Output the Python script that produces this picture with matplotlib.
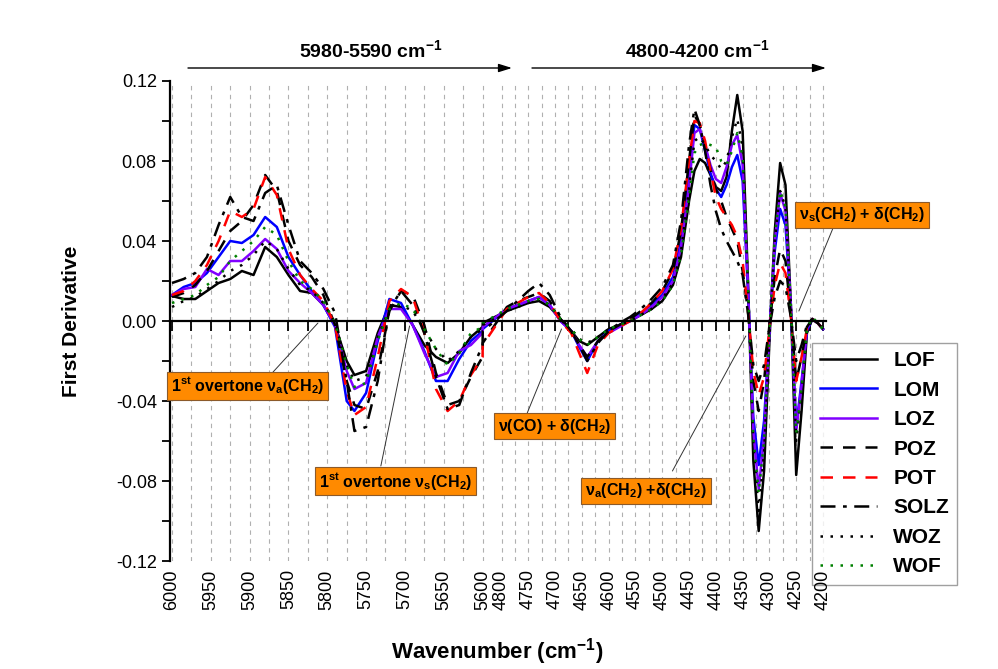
import numpy as np
import matplotlib
matplotlib.use("Agg")
import matplotlib.pyplot as plt
from matplotlib.ticker import FixedLocator, NullFormatter, MultipleLocator, FormatStrFormatter

plt.rcParams["font.family"] = ["Liberation Sans", "DejaVu Sans"]
plt.rcParams["mathtext.fontset"] = "custom"
plt.rcParams["mathtext.rm"] = "Liberation Sans"
plt.rcParams["mathtext.bf"] = "Liberation Sans:bold"
plt.rcParams["mathtext.it"] = "Liberation Sans:italic"
plt.rcParams["axes.unicode_minus"] = False

# wavenumbers (cm-1): 6000-5590 region, then 4790-4200 region
wavenumber = [6000, 5985, 5970, 5955, 5940, 5925, 5910, 5895, 5880, 5865, 5850, 5835, 5820, 5805, 5790,
              5775, 5765, 5750, 5735, 5720, 5705, 5690, 5675, 5660, 5645, 5630, 5615, 5600, 5590,
              4790, 4770, 4750, 4730, 4710, 4690, 4670, 4655, 4640, 4620, 4600, 4580, 4560, 4540, 4520,
              4500, 4480, 4465, 4450, 4440, 4430, 4420, 4410, 4400, 4390, 4380, 4370, 4360, 4350, 4340,
              4330, 4320, 4310, 4300, 4290, 4280, 4270, 4260, 4250, 4240, 4230, 4220, 4210, 4200]

lof = [0.0125, 0.011, 0.011, 0.015, 0.019, 0.021, 0.025, 0.023, 0.037, 0.032, 0.023, 0.015, 0.014, 0.008, -0.002,
       -0.020, -0.027, -0.025, -0.006, 0.008, 0.007, -0.002, -0.012, -0.018, -0.021, -0.016, -0.008, -0.003, -0.001,
       0.005, 0.007, 0.009, 0.010, 0.007, 0.001, -0.005, -0.010, -0.012, -0.008, -0.004, -0.002, 0.000, 0.003, 0.006,
       0.010, 0.018, 0.032, 0.060, 0.075, 0.081, 0.079, 0.073, 0.067, 0.065, 0.072, 0.095, 0.113, 0.095, 0.020,
       -0.070, -0.105, -0.075, -0.010, 0.045, 0.079, 0.068, 0.008, -0.077, -0.045, -0.006, 0.001, -0.001, -0.004]

lom = [0.013, 0.017, 0.019, 0.024, 0.032, 0.040, 0.039, 0.043, 0.052, 0.047, 0.032, 0.023, 0.015, 0.008, -0.003,
       -0.040, -0.045, -0.036, -0.010, 0.011, 0.009, -0.002, -0.015, -0.030, -0.030, -0.019, -0.010, -0.005, -0.004,
       0.006, 0.008, 0.010, 0.012, 0.008, 0.000, -0.005, -0.013, -0.020, -0.010, -0.005, -0.002, 0.000, 0.004, 0.008,
       0.013, 0.022, 0.040, 0.073, 0.098, 0.096, 0.085, 0.074, 0.066, 0.062, 0.068, 0.077, 0.083, 0.070, 0.015,
       -0.048, -0.072, -0.050, -0.005, 0.035, 0.056, 0.048, 0.006, -0.053, -0.030, -0.005, 0.001, -0.001, -0.004]

loz = [0.013, 0.016, 0.017, 0.026, 0.023, 0.030, 0.030, 0.035, 0.041, 0.036, 0.025, 0.019, 0.014, 0.008, -0.002,
       -0.025, -0.034, -0.031, -0.008, 0.006, 0.006, -0.002, -0.016, -0.028, -0.026, -0.015, -0.012, -0.006, -0.003,
       0.006, 0.008, 0.010, 0.012, 0.008, 0.000, -0.005, -0.012, -0.018, -0.010, -0.006, -0.003, 0.000, 0.003, 0.007,
       0.012, 0.020, 0.037, 0.068, 0.094, 0.096, 0.088, 0.078, 0.071, 0.069, 0.077, 0.088, 0.093, 0.078, 0.017,
       -0.055, -0.084, -0.058, -0.006, 0.040, 0.064, 0.055, 0.008, -0.055, -0.032, -0.004, 0.001, -0.001, -0.004]

poz = [0.012, 0.014, 0.018, 0.025, 0.035, 0.045, 0.050, 0.058, 0.073, 0.065, 0.040, 0.028, 0.022, 0.013, -0.002,
       -0.030, -0.042, -0.044, -0.025, 0.005, 0.015, 0.013, -0.002, -0.026, -0.042, -0.040, -0.028, -0.018, -0.011,
       0.007, 0.010, 0.012, 0.014, 0.010, 0.001, -0.005, -0.012, -0.018, -0.010, -0.005, -0.002, 0.001, 0.005, 0.009,
       0.015, 0.025, 0.045, 0.080, 0.103, 0.098, 0.088, 0.076, 0.066, 0.060, 0.052, 0.046, 0.040, 0.025, 0.005,
       -0.030, -0.045, -0.030, -0.002, 0.022, 0.036, 0.030, 0.003, -0.030, -0.018, -0.003, 0.001, -0.001, -0.004]

pot = [0.013, 0.015, 0.020, 0.028, 0.040, 0.055, 0.052, 0.056, 0.072, 0.063, 0.036, 0.023, 0.016, 0.010, -0.002,
       -0.035, -0.047, -0.043, -0.018, 0.010, 0.016, 0.012, -0.006, -0.034, -0.045, -0.040, -0.027, -0.018, -0.012,
       0.006, 0.009, 0.012, 0.014, 0.009, 0.000, -0.006, -0.016, -0.026, -0.012, -0.006, -0.003, 0.000, 0.004, 0.009,
       0.015, 0.026, 0.046, 0.080, 0.100, 0.099, 0.090, 0.075, 0.062, 0.056, 0.052, 0.048, 0.042, 0.030, 0.005,
       -0.025, -0.037, -0.028, -0.004, 0.018, 0.029, 0.024, 0.002, -0.030, -0.018, -0.004, 0.001, -0.001, -0.004]

solz = [0.019, 0.021, 0.024, 0.032, 0.048, 0.062, 0.052, 0.050, 0.064, 0.068, 0.048, 0.030, 0.024, 0.016, 0.004,
        -0.030, -0.055, -0.053, -0.030, 0.006, 0.015, 0.008, -0.006, -0.028, -0.044, -0.042, -0.026, -0.012, -0.005,
        0.005, 0.010, 0.015, 0.019, 0.013, 0.002, -0.005, -0.012, -0.020, -0.011, -0.005, -0.001, 0.002, 0.006, 0.011,
        0.017, 0.028, 0.050, 0.088, 0.106, 0.098, 0.085, 0.068, 0.055, 0.046, 0.040, 0.035, 0.030, 0.023, 0.004,
        -0.022, -0.030, -0.022, -0.003, 0.012, 0.020, 0.017, 0.002, -0.020, -0.012, -0.002, 0.001, -0.001, -0.004]

woz = [0.007, 0.010, 0.012, 0.016, 0.020, 0.025, 0.028, 0.033, 0.040, 0.036, 0.026, 0.018, 0.015, 0.009, -0.001,
       -0.022, -0.030, -0.028, -0.008, 0.006, 0.008, 0.005, -0.004, -0.014, -0.020, -0.015, -0.008, -0.004, -0.002,
       0.005, 0.007, 0.009, 0.011, 0.008, 0.001, -0.004, -0.009, -0.011, -0.008, -0.004, -0.002, 0.000, 0.003, 0.006,
       0.011, 0.019, 0.035, 0.066, 0.090, 0.092, 0.088, 0.083, 0.080, 0.076, 0.080, 0.092, 0.101, 0.087, 0.018,
       -0.062, -0.095, -0.066, -0.008, 0.040, 0.065, 0.057, 0.008, -0.060, -0.035, -0.005, 0.001, -0.001, -0.004]

wof = [0.009, 0.011, 0.013, 0.018, 0.022, 0.030, 0.035, 0.040, 0.047, 0.043, 0.030, 0.020, 0.016, 0.010, -0.001,
       -0.022, -0.033, -0.031, -0.010, 0.006, 0.009, 0.006, -0.004, -0.014, -0.022, -0.016, -0.006, -0.003, -0.001,
       0.006, 0.008, 0.010, 0.011, 0.008, 0.001, -0.004, -0.009, -0.012, -0.008, -0.004, -0.002, 0.000, 0.003, 0.006,
       0.010, 0.018, 0.033, 0.062, 0.084, 0.088, 0.089, 0.088, 0.087, 0.080, 0.078, 0.085, 0.094, 0.082, 0.018,
       -0.058, -0.086, -0.060, -0.006, 0.042, 0.065, 0.057, 0.008, -0.056, -0.033, -0.004, 0.002, -0.001, -0.004]

major_ticks = [6000, 5950, 5900, 5850, 5800, 5750, 5700, 5650, 5600,
               4800, 4750, 4700, 4650, 4600, 4550, 4500, 4450, 4400, 4350, 4300, 4250, 4200]
minor_ticks = [5975, 5925, 5875, 5825, 5775, 5725, 5675, 5625,
               4775, 4725, 4675, 4625, 4575, 4525, 4475, 4425, 4375, 4325, 4275, 4225]

# broken wavenumber axis: 6000-5600 wide, short gap, 4800-4200 narrower
brk_w = [4000, 4200, 4800, 5600, 6000, 6200]
brk_p = [-759.3, -652.0, -330.0, -311.0, 0.0, 155.5]


def fwd(w):
    return np.interp(w, brk_w, brk_p)


def inv(p):
    return np.interp(p, brk_p, brk_w)


fig = plt.figure(figsize=(9.98, 6.69), dpi=100)
ax = fig.add_axes([170 / 998, 108 / 669, 656 / 998, 480 / 669])
ax.set_xscale("function", functions=(fwd, inv))
ax.set_xlim(6002.6, 4194.4)
ax.set_ylim(-0.12, 0.12)

styles = [
    ("LOF", lof, "black", "-"),
    ("LOM", lom, "#0000ff", "-"),
    ("LOZ", loz, "#8000ff", "-"),
    ("POZ", poz, "black", (0, (5, 4))),
    ("POT", pot, "#ff0000", (0, (5, 4))),
    ("SOLZ", solz, "black", (0, (6, 3, 1.5, 3))),
    ("WOZ", woz, "black", (0, (1, 3))),
    ("WOF", wof, "#008000", (0, (1, 3))),
]
for name, vals, col, ls in styles:
    ax.plot(wavenumber, vals, color=col, ls=ls, lw=1.8, label=name)

ax.xaxis.set_major_locator(FixedLocator(major_ticks))
ax.xaxis.set_minor_locator(FixedLocator(minor_ticks))
ax.xaxis.set_major_formatter(FormatStrFormatter("%d"))
ax.xaxis.set_minor_formatter(NullFormatter())
ax.grid(True, which="both", axis="x", color="#b0b0b0", ls=(0, (4, 4)), lw=0.8)

ax.spines["top"].set_visible(False)
ax.spines["right"].set_visible(False)
ax.spines["bottom"].set_position(("data", 0))
ax.spines["bottom"].set_linewidth(1.6)
ax.spines["left"].set_linewidth(1.6)
ax.tick_params(axis="x", which="both", direction="out", length=7, width=1.3, labelbottom=False)
ax.yaxis.set_major_locator(MultipleLocator(0.04))
ax.yaxis.set_minor_locator(MultipleLocator(0.02))
ax.yaxis.set_major_formatter(FormatStrFormatter("%.2f"))
ax.tick_params(axis="y", which="both", direction="out", length=6, width=1.3, labelsize=13)
ax.set_ylabel("First Derivative", fontsize=15, fontweight="bold")
ax.yaxis.set_label_coords(-0.136, 0.5)

# second axes only to carry the tick labels along the bottom
ax2 = fig.add_axes(ax.get_position(), sharex=ax, frameon=False)
ax2.tick_params(axis="x", which="both", length=0, labelrotation=90, labelsize=13, pad=6)
ax2.tick_params(axis="y", left=False, labelleft=False)
fig.text(497 / 998, 1 - 652 / 669, r"Wavenumber (cm$^{\mathbf{-1}}$)", ha="center", va="center",
         fontsize=16, fontweight="bold")

leg = ax.legend(loc="upper left", bbox_to_anchor=(812 / 998, 1 - 343 / 669), bbox_transform=fig.transFigure,
                prop={"weight": "bold", "size": 15}, handlelength=2.7, labelspacing=0.5,
                frameon=True, fancybox=False, edgecolor="#888888", borderaxespad=0)
leg.get_frame().set_linewidth(1.0)

# region arrows on top
for txt, x0, x1, xc in [(r"5980-5590 cm$^{\mathbf{-1}}$", 188, 512, 371),
                        (r"4800-4200 cm$^{\mathbf{-1}}$", 532, 826, 697)]:
    fig.text(xc / 998, 1 - 50 / 669, txt, ha="center", va="center", fontsize=14, fontweight="bold")
    ax.annotate("", xy=(x1 / 998, 1 - 68 / 669), xytext=(x0 / 998, 1 - 68 / 669), xycoords="figure fraction",
                arrowprops=dict(arrowstyle="-|>,head_length=0.8,head_width=0.25", color="black", lw=1,
                                shrinkA=0, shrinkB=0))

# band assignments
box = dict(boxstyle="square,pad=0.25", fc="#ff8a00", ec="#8b5a2b", lw=0.8)
notes = [
    (r"1$^{\mathbf{st}}$ overtone ν$_{\mathbf{a}}$(CH$_{\mathbf{2}}$)", (5903, -0.0325), (5871, -0.026), (5812, -0.001)),
    (r"1$^{\mathbf{st}}$ overtone ν$_{\mathbf{s}}$(CH$_{\mathbf{2}}$)", (5712, -0.080), (5731, -0.0725), (5694, -0.0025)),
    (r"ν(CO) + δ(CH$_{\mathbf{2}}$)", (4701, -0.0525), (4752, -0.046), (4688, -0.004)),
    (r"ν$_{\mathbf{a}}$(CH$_{\mathbf{2}}$) +δ(CH$_{\mathbf{2}}$)", (4530, -0.085), (4481, -0.075), (4344, -0.0075)),
    (r"ν$_{\mathbf{s}}$(CH$_{\mathbf{2}}$) + δ(CH$_{\mathbf{2}}$)", (4127, 0.053), (4182, 0.046), (4245, 0.005)),
]
for txt, pos, p0, p1 in notes:
    ax.annotate("", xy=p1, xytext=p0, annotation_clip=False,
                arrowprops=dict(arrowstyle="-", color="#333333", lw=0.7, shrinkA=0, shrinkB=0))
    ax.text(pos[0], pos[1], txt, ha="center", va="center", fontsize=11.5, fontweight="bold",
            bbox=box, zorder=6, clip_on=False)

fig.savefig("out.png", dpi=100)
